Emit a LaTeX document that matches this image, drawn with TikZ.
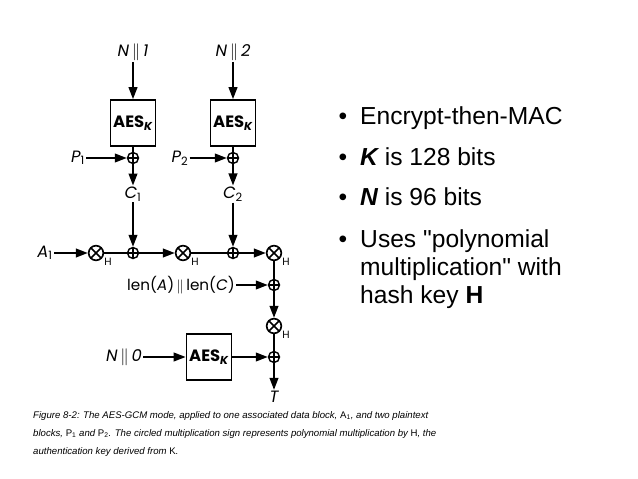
\documentclass[tikz,border=0pt]{standalone}
\usepackage{fontspec}
\setmainfont{Poppins}
\newfontfamily\bulletfont{Liberation Sans}
\usetikzlibrary{arrows.meta, positioning}

\tikzset{
  blk/.style={draw, line width=1.4pt, minimum width=1.35cm, minimum height=1.38cm, inner sep=0pt, font=\fontsize{14}{16}\selectfont\bfseries},
  xorop/.style={circle, draw, line width=1.2pt, minimum size=0.33cm, inner sep=0pt,
    path picture={\draw[line width=1.2pt] (path picture bounding box.north) -- (path picture bounding box.south)
      (path picture bounding box.west) -- (path picture bounding box.east);}},
  mulop/.style={circle, draw, line width=1.4pt, minimum size=0.44cm, inner sep=0pt,
    path picture={\draw[line width=1.4pt] (path picture bounding box.north west) -- (path picture bounding box.south east)
      (path picture bounding box.north east) -- (path picture bounding box.south west);},
    label={[font=\fontsize{9}{10}\selectfont, inner sep=0pt, label distance=1pt]-30:H}},
  lbl/.style={font=\fontsize{14}{16}\selectfont, inner sep=1pt},
  flow/.style={-{Triangle[length=0.36cm, width=0.26cm]}, line width=1.6pt},
  wire/.style={line width=1.6pt},
  bul/.style={font=\bulletfont\fontsize{21}{23.9}\selectfont, inner sep=0pt},
  captxt/.style={font=\bulletfont\fontsize{8.2}{15.4}\selectfont\itshape, inner sep=0pt, align=left}
}

\begin{document}
\begin{tikzpicture}[x=0.03cm, y=-0.03cm]
  \useasboundingbox (0,0) rectangle (638,479);

  % counter blocks
  \node[lbl] (n1) at (133,52) {{\itshape N}\,$\Vert$\,{\itshape 1}};
  \node[lbl] (n2) at (233,52) {{\itshape N}\,$\Vert$\,{\itshape 2}};
  \node[blk] (aes1) at (133,123) {AES\textsubscript{\itshape K}};
  \node[blk] (aes2) at (233,123) {AES\textsubscript{\itshape K}};
  \node[xorop] (x1) at (133,158) {};
  \node[xorop] (x2) at (233,158) {};
  \node[lbl] (p1) at (78,158) {{\itshape P}\textsubscript{1}};
  \node[lbl] (p2) at (180,158) {{\itshape P}\textsubscript{2}};
  \node[lbl] (c1) at (133,194) {{\itshape C}\textsubscript{1}};
  \node[lbl] (c2) at (233,194) {{\itshape C}\textsubscript{2}};

  % GHASH row
  \node[lbl] (a1) at (45,253) {{\itshape A}\textsubscript{1}};
  \node[mulop] (m1) at (96,253) {};
  \node[xorop] (x3) at (133,253) {};
  \node[mulop] (m2) at (183,253) {};
  \node[xorop] (x4) at (233,253) {};
  \node[mulop] (m3) at (274,253) {};
  \node[lbl, font=\fontsize{13}{15}\selectfont] (lenac) at (181,285) {len({\itshape A})\,$\Vert$\,len({\itshape C})};
  \node[xorop] (x5) at (274,285) {};
  \node[mulop] (m4) at (274,326) {};
  \node[lbl] (n0) at (124,357) {{\itshape N}\,$\Vert$\,{\itshape 0}};
  \node[blk] (aes3) at (209,357) {AES\textsubscript{\itshape K}};
  \node[xorop] (x6) at (274,357) {};
  \node[lbl] (tag) at (274,397) {{\itshape T}};

  \draw[flow] (n1) -- (aes1);
  \draw[flow] (n2) -- (aes2);
  \draw[wire] (aes1) -- (x1);
  \draw[wire] (aes2) -- (x2);
  \draw[flow] (p1) -- (x1);
  \draw[flow] (p2) -- (x2);
  \draw[flow] (x1) -- (c1);
  \draw[flow] (x2) -- (c2);
  \draw[flow] (c1) -- (x3);
  \draw[flow] (c2) -- (x4);
  \draw[flow] (a1) -- (m1);
  \draw[wire] (m1) -- (x3);
  \draw[flow] (x3) -- (m2);
  \draw[wire] (m2) -- (x4);
  \draw[flow] (x4) -- (m3);
  \draw[wire] (m3) -- (x5);
  \draw[flow] (lenac) -- (x5);
  \draw[flow] (x5) -- (m4);
  \draw[wire] (m4) -- (x6);
  \draw[flow] (n0) -- (aes3);
  \draw[flow] (aes3) -- (x6);
  \draw[flow] (x6) -- (tag);

  % bullet list
  \node[bul, anchor=base] (d1) at (343,125) {\textbullet};
  \node[bul, anchor=base west] (i1) at (360,125) {Encrypt-then-MAC};
  \node[bul, anchor=base] (d2) at (343,165) {\textbullet};
  \node[bul, anchor=base west] (i2) at (360,165) {{\bfseries\itshape K} is 128 bits};
  \node[bul, anchor=base] (d3) at (343,205) {\textbullet};
  \node[bul, anchor=base west] (i3) at (360,205) {{\bfseries\itshape N} is 96 bits};
  \node[bul, anchor=base] (d4) at (343,247) {\textbullet};
  \node[bul, anchor=base west, align=left] (i4) at (360,303) {Uses "polynomial\\multiplication" with\\hash key {\bfseries H}};

  % caption
  \node[captxt, anchor=north west] (caption) at (33,411) {Figure 8-2: The AES-GCM mode, applied to one associated data block, {\upshape A\textsubscript{1}}, and two plaintext\\
    blocks, {\upshape P\textsubscript{1}} and {\upshape P\textsubscript{2}}. The circled multiplication sign represents polynomial multiplication by {\upshape H}, the\\
    authentication key derived from {\upshape K}.};
\end{tikzpicture}
\end{document}
